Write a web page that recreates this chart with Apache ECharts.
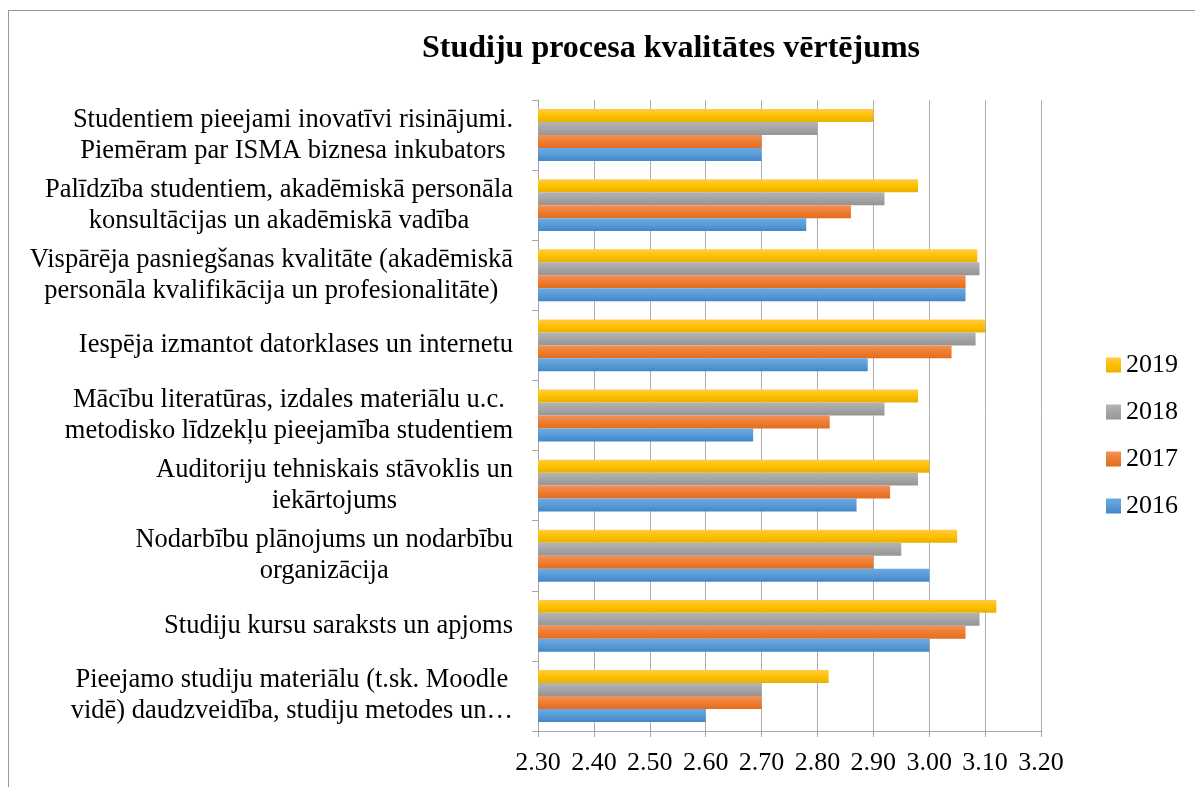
<!DOCTYPE html>
<html>
<head>
<meta charset="utf-8">
<script src="https://cdn.jsdelivr.net/npm/echarts@6/dist/echarts.min.js"></script>
<style>
  html, body { margin: 0; padding: 0; background: #fff; }
  #frame { position: absolute; left: 8px; top: 10px; width: 1200px; height: 800px; border: 1px solid #9a9a9a; box-sizing: border-box; }
  #chart { position: absolute; left: 0; top: 0; width: 1195px; height: 787px; }
</style>
</head>
<body>
<div id="frame"></div>
<div id="chart"></div>
<script>
// Categories, top to bottom
const categories = [
  "Studentiem pieejami inovatīvi risinājumi.\nPiemēram par ISMA biznesa inkubators",
  "Palīdzība studentiem, akadēmiskā personāla\nkonsultācijas un akadēmiskā vadība",
  "Vispārēja pasniegšanas kvalitāte (akadēmiskā\npersonāla kvalifikācija un profesionalitāte)",
  "Iespēja izmantot datorklases un internetu",
  "Mācību literatūras, izdales materiālu u.c.\nmetodisko līdzekļu pieejamība studentiem",
  "Auditoriju tehniskais stāvoklis un\niekārtojums",
  "Nodarbību plānojums un nodarbību\norganizācija",
  "Studiju kursu saraksts un apjoms",
  "Pieejamo studiju materiālu (t.sk. Moodle\nvidē) daudzveidība, studiju metodes un…"
];
const seriesNames = ["2019", "2018", "2017", "2016"];
const v2019 = [2.90, 2.98, 3.086, 3.10, 2.98, 3.00, 3.05, 3.12, 2.82];
const v2018 = [2.80, 2.92, 3.09, 3.083, 2.92, 2.98, 2.95, 3.09, 2.70];
const v2017 = [2.70, 2.86, 3.065, 3.04, 2.822, 2.93, 2.90, 3.065, 2.70];
const v2016 = [2.70, 2.78, 3.065, 2.89, 2.685, 2.87, 3.00, 3.00, 2.60];
const axisMin = 2.3, axisMax = 3.2, axisStep = 0.1;

const FONT = "'Liberation Serif', 'Times New Roman', serif";
function grad(top, mid, bottom) {
  return { type: 'linear', x: 0, y: 0, x2: 0, y2: 1,
    colorStops: [{ offset: 0, color: top }, { offset: 0.5, color: mid }, { offset: 1, color: bottom }] };
}
const colors = {
  "2019": grad('#FFCB45', '#FFC000', '#E9B000'),
  "2018": grad('#B4B4B4', '#A5A5A5', '#959595'),
  "2017": grad('#F4925A', '#ED7D31', '#E46C1E'),
  "2016": grad('#69AAE6', '#5B9BD5', '#4286CA')
};
const valuesByName = { "2019": v2019, "2018": v2018, "2017": v2017, "2016": v2016 };

const chart = echarts.init(document.getElementById('chart'), null, { renderer: 'canvas' });
chart.setOption({
  animation: false,
  title: {
    text: 'Studiju procesa kvalitātes vērtējums',
    left: 417, top: 28,
    textStyle: { fontFamily: FONT, fontWeight: 'bold', fontSize: 32, color: '#000' }
  },
  legend: {
    orient: 'vertical', left: 1101, top: 347,
    itemWidth: 15, itemHeight: 15, itemGap: 21,
    icon: 'rect',
    data: seriesNames,
    textStyle: { fontFamily: FONT, fontSize: 26, color: '#000', lineHeight: 25 }
  },
  grid: { left: 538, right: 154, top: 100, bottom: 56, containLabel: false },
  xAxis: {
    type: 'value', min: axisMin, max: axisMax, interval: axisStep,
    axisLine: { show: true, lineStyle: { color: '#A6A6A6', width: 1 } },
    axisTick: { show: true, length: 6, lineStyle: { color: '#A6A6A6' } },
    splitLine: { show: true, lineStyle: { color: '#ADADAD', width: 1 } },
    axisLabel: { fontFamily: FONT, fontSize: 26, color: '#000', margin: 19,
      formatter: v => v.toFixed(2) }
  },
  yAxis: {
    type: 'category', inverse: true, data: categories,
    axisLine: { show: true, lineStyle: { color: '#A6A6A6', width: 1 } },
    axisTick: { show: true, length: 6, inside: false, lineStyle: { color: '#A6A6A6' } },
    axisLabel: {
      margin: 25, align: 'right', color: '#000', fontFamily: FONT, fontSize: 26.5, lineHeight: 31,
      formatter: v => v.split('\n').map(l => '{c|' + l + '}').join('\n'),
      rich: { c: { align: 'center', fontFamily: FONT, fontSize: 26.5, lineHeight: 31, color: '#000' } }
    }
  },
  series: seriesNames.map(n => ({
    name: n, type: 'bar', data: valuesByName[n],
    barGap: '0%', barCategoryGap: '26%',
    itemStyle: { color: colors[n] }
  }))
});
</script>
</body>
</html>
